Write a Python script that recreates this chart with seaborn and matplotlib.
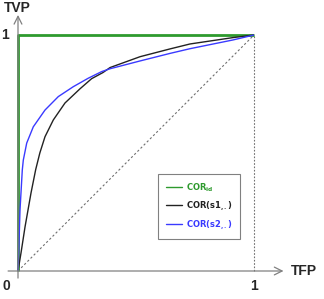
import seaborn as sns
import numpy as np
import pandas as pd
import matplotlib.pyplot as plt

# ROC curves (false positive rate, true positive rate)
fpr_s1 = [0.0, 0.0127, 0.0297, 0.0551, 0.075, 0.0925, 0.1144, 0.1496, 0.1992,
          0.2627, 0.312, 0.3602, 0.39, 0.517, 0.644, 0.729, 0.911, 1.0]
tpr_s1 = [0.0, 0.0763, 0.1864, 0.3305, 0.43, 0.50, 0.569, 0.640, 0.712,
          0.772, 0.815, 0.841, 0.862, 0.908, 0.941, 0.962, 0.989, 1.0]
fpr_s2 = [0.0, 0.0042, 0.0085, 0.0182, 0.0225, 0.0369, 0.0648, 0.1144, 0.1708,
          0.2343, 0.2979, 0.3547, 0.39, 0.517, 0.644, 0.729, 0.911, 1.0]
tpr_s2 = [0.0, 0.1186, 0.2585, 0.428, 0.470, 0.542, 0.611, 0.682, 0.739,
          0.781, 0.817, 0.845, 0.857, 0.890, 0.922, 0.942, 0.979, 1.0]
fpr_id = [0.0, 0.0, 1.0]
tpr_id = [0.0, 1.0, 1.0]

labels = [r'$\mathbf{COR}_{\mathbf{id}}$',
          r'$\mathbf{COR(s1}_{\mathbf{,.}}\mathbf{)}$',
          r'$\mathbf{COR(s2}_{\mathbf{,.}}\mathbf{)}$']
colors = ['#2e9a2e', '#222222', '#3a3aff']

df = pd.concat([
    pd.DataFrame({'fpr': fpr_id, 'tpr': tpr_id, 'curve': labels[0]}),
    pd.DataFrame({'fpr': fpr_s1, 'tpr': tpr_s1, 'curve': labels[1]}),
    pd.DataFrame({'fpr': fpr_s2, 'tpr': tpr_s2, 'curve': labels[2]}),
])

sns.set_style('white')
plt.rcParams['font.family'] = ['Liberation Sans', 'DejaVu Sans']
plt.rcParams['mathtext.fontset'] = 'dejavusans'

fig = plt.figure(figsize=(3.24, 2.99), dpi=100)
ax = fig.add_axes([0, 0, 1, 1])
ax.set_xlim(-18 / 236, 306 / 236)
ax.set_ylim(-28 / 236, 271 / 236)
ax.axis('off')

# reference lines
ax.plot([0, 1], [0, 1], ls=(0, (2, 2)), color='#707070', lw=0.8)
ax.plot([1, 1], [0, 1], ls=(0, (1.5, 1.5)), color='#707070', lw=0.8)

# axes with arrows
ax.annotate('', xy=(1.125, 0), xytext=(-0.042, 0),
            arrowprops=dict(arrowstyle='->', color='#808080', lw=0.9,
                            mutation_scale=14, shrinkA=0, shrinkB=0))
ax.annotate('', xy=(0, 1.085), xytext=(0, -0.03),
            arrowprops=dict(arrowstyle='->', color='#808080', lw=0.9,
                            mutation_scale=14, shrinkA=0, shrinkB=0))

sns.lineplot(data=df, x='fpr', y='tpr', hue='curve', palette=colors,
             sort=False, estimator=None, ax=ax, legend=False)
for line, lw in zip(ax.lines[-3:], [2.0, 1.0, 1.0]):
    line.set_linewidth(lw)
    line.set_solid_capstyle('butt')
    line.set_solid_joinstyle('round')

ax.text(-0.055, 1.0, '1', ha='center', va='center', fontsize=10, fontweight='bold')
ax.text(-0.05, -0.065, '0', ha='center', va='center', fontsize=10, fontweight='bold')
ax.text(1.0, -0.065, '1', ha='center', va='center', fontsize=10, fontweight='bold')
ax.text(-0.005, 1.115, 'TVP', ha='center', va='center', fontsize=10, fontweight='bold')
ax.text(1.155, 0.0, 'TFP', ha='left', va='center', fontsize=10, fontweight='bold')

handles = [plt.Line2D([], [], color=c, lw=1.0) for c in colors]
leg = ax.legend(handles, labels, loc='lower left',
                bbox_to_anchor=(158 / 324, 60 / 299), borderaxespad=0,
                fancybox=False, edgecolor='#808080', framealpha=1,
                prop={'weight': 'bold', 'size': 6}, handlelength=2.0,
                handletextpad=0.5, labelspacing=0.6, borderpad=0.9)
leg.get_frame().set_linewidth(0.8)
for txt, c in zip(leg.get_texts(), colors):
    txt.set_color(c)

fig.savefig('out.png', dpi=100)
